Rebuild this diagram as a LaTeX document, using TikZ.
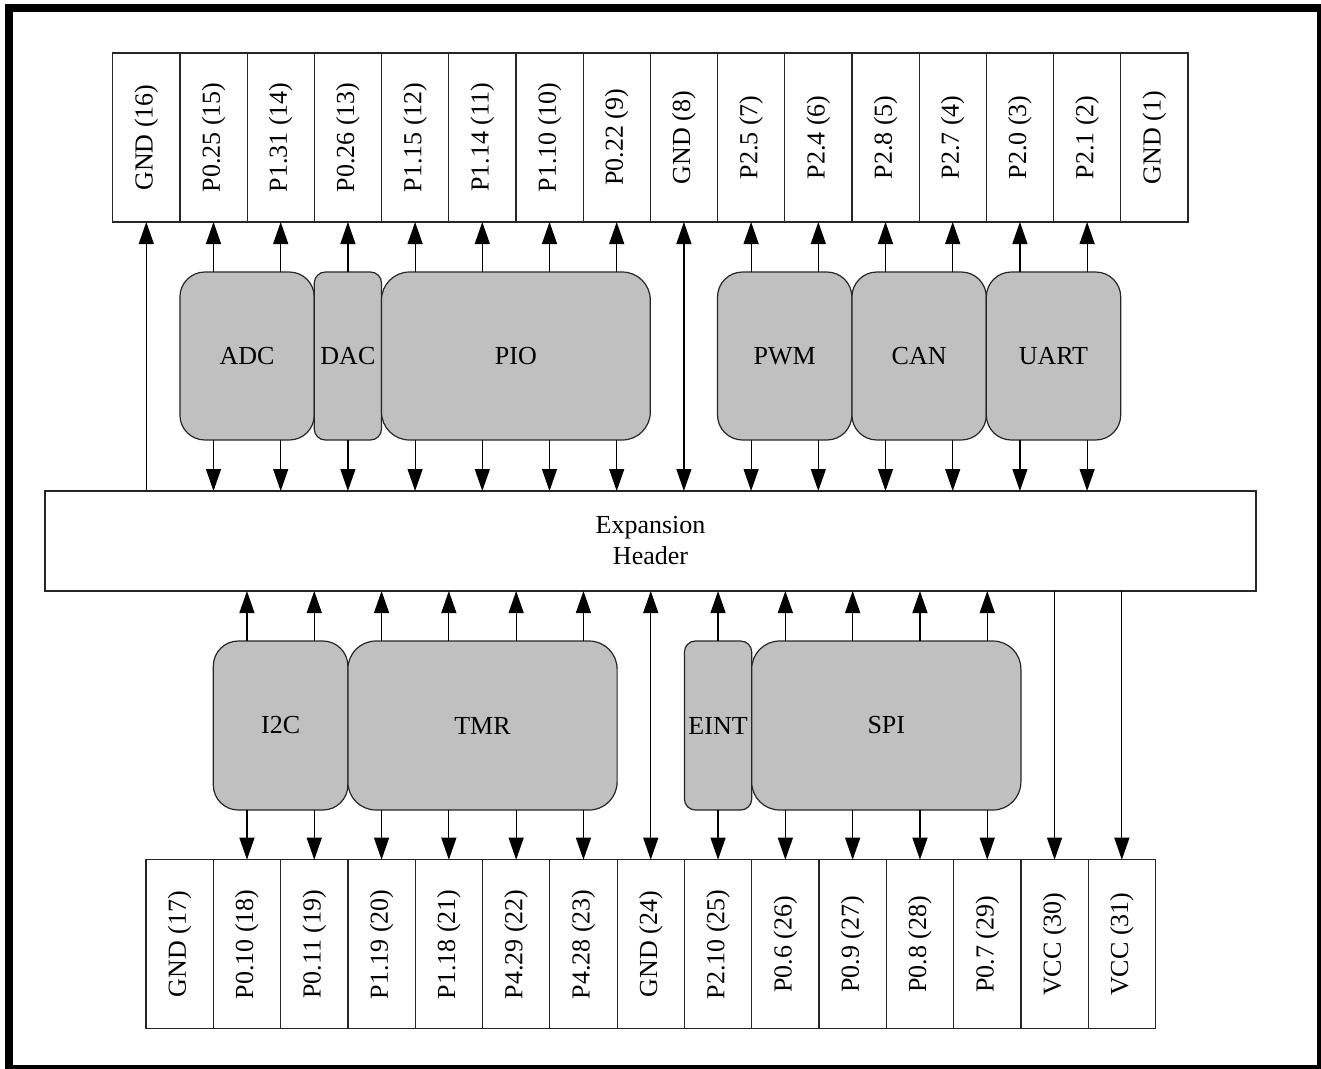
\documentclass[tikz,border=0pt]{standalone}
\usepackage{fontspec}
\setmainfont{Liberation Serif}
\usetikzlibrary{arrows.meta}
\definecolor{modgray}{RGB}{192,192,192}
\begin{document}
\begin{tikzpicture}[x=1pt,y=-1pt,
  every node/.style={font=\fontsize{26}{31}\selectfont, inner sep=0pt, outer sep=0pt},
  pinbox/.style={draw=black!85, line width=1.2pt, fill=white, minimum height=169pt},
  tpin/.style={pinbox, minimum width=67.2pt},
  bpin/.style={pinbox, minimum width=67.3pt},
  module/.style={draw=black!85, line width=1.2pt, fill=modgray, minimum height=168pt},
  arr/.style={line width=1.2pt, -{Triangle[length=22pt,width=15pt]}},
  darr/.style={line width=1.2pt, {Triangle[length=22pt,width=15pt]}-{Triangle[length=22pt,width=15pt]}}
]
\useasboundingbox (0,0) rectangle (1321,1068);
\draw[line width=8pt] (9,8) rectangle (1321,1069);

% top pins
\foreach \n/\t [count=\i from 0] in {16/GND (16),15/P0.25 (15),14/P1.31 (14),13/P0.26 (13),12/P1.15 (12),11/P1.14 (11),10/P1.10 (10),9/P0.22 (9),8/GND (8),7/P2.5 (7),6/P2.4 (6),5/P2.8 (5),4/P2.7 (4),3/P2.0 (3),2/P2.1 (2),1/GND (1)}
  \node[tpin] (t\n) at ({112.7+67.2*(\i+0.5)},137.5) {\rotatebox{90}{\t}};

% bottom pins
\foreach \n/\t [count=\i from 0] in {17/GND (17),18/P0.10 (18),19/P0.11 (19),20/P1.19 (20),21/P1.18 (21),22/P4.29 (22),23/P4.28 (23),24/GND (24),25/P2.10 (25),26/P0.6 (26),27/P0.9 (27),28/P0.8 (28),29/P0.7 (29),30/VCC (30),31/VCC (31)}
  \node[bpin] (b\n) at ({146+67.3*(\i+0.5)},944.2) {\rotatebox{90}{\t}};

% header
\node[draw=black!85, line width=1.2pt, fill=white, minimum width=1211pt, minimum height=100pt, align=center] (hdr) at (650.5,541) {Expansion\\Header};

% top modules
\node[module, rounded corners=25pt, minimum width=134.4pt] (adc) at (247.1,356) {ADC};
\node[module, rounded corners=11pt, minimum width=67.2pt] (dac) at (347.9,356) {DAC};
\node[module, rounded corners=28pt, minimum width=268.8pt] (pio) at (515.9,356) {PIO};
\node[module, rounded corners=25pt, minimum width=134.4pt] (pwm) at (784.7,356) {PWM};
\node[module, rounded corners=25pt, minimum width=134.4pt] (can) at (919.1,356) {CAN};
\node[module, rounded corners=25pt, minimum width=134.4pt] (uart) at (1053.5,356) {UART};

% bottom modules
\node[module, rounded corners=25pt, minimum width=134.6pt, minimum height=169pt] (i2c) at (280.6,725.5) {I2C};
\node[module, rounded corners=28pt, minimum width=269.2pt, minimum height=169pt] (tmr) at (482.5,725.5) {TMR};
\node[module, rounded corners=11pt, minimum width=67.3pt, minimum height=169pt] (eint) at (718.05,725.5) {EINT};
\node[module, rounded corners=28pt, minimum width=269.2pt, minimum height=169pt] (spi) at (886.3,725.5) {SPI};

% top connectors
\draw[arr] (hdr.north -| t16) -- (t16.south);
\draw[darr] (hdr.north -| t8) -- (t8.south);
\foreach \m/\p in {adc/15,adc/14,dac/13,pio/12,pio/11,pio/10,pio/9,pwm/7,pwm/6,can/5,can/4,uart/3,uart/2} {
  \draw[arr] (\m.north -| t\p) -- (t\p.south);
  \draw[arr] (\m.south -| t\p) -- (hdr.north -| t\p);
}

% bottom connectors
\draw[darr] (hdr.south -| b24) -- (b24.north);
\draw[arr] (hdr.south -| b30) -- (b30.north);
\draw[arr] (hdr.south -| b31) -- (b31.north);
\foreach \m/\p in {i2c/18,i2c/19,tmr/20,tmr/21,tmr/22,tmr/23,eint/25,spi/26,spi/27,spi/28,spi/29} {
  \draw[arr] (\m.north -| b\p) -- (hdr.south -| b\p);
  \draw[arr] (\m.south -| b\p) -- (b\p.north);
}
\end{tikzpicture}
\end{document}
